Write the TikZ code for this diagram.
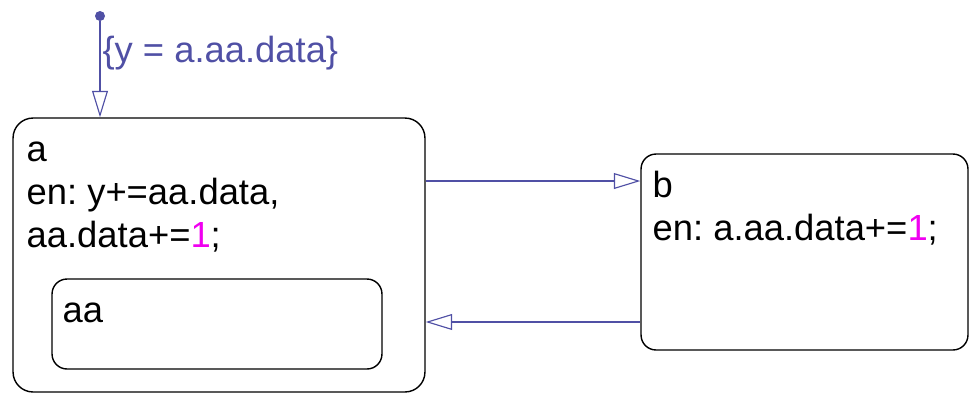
\documentclass[tikz,border=0pt]{standalone}
\usepackage{fontspec}
\setmainfont{Liberation Sans}
\usetikzlibrary{arrows.meta, positioning, calc}
\definecolor{trblue}{RGB}{80,80,165}
\definecolor{numpink}{RGB}{240,0,240}
\frenchspacing

\begin{document}
\begin{tikzpicture}[x=0.02cm, y=-0.02cm,
  state/.style={draw, line width=0.8pt, rounded corners=0.4cm, inner sep=0pt},
  lbl/.style={anchor=north west, inner sep=0pt, align=left,
              font=\fontsize{20.7}{24.4}\selectfont},
  trans/.style={draw=trblue, line width=0.65pt,
                -{Triangle[open, length=15pt, width=9pt]}}]
  \useasboundingbox (0,0) rectangle (969,393);

  % states
  \node[state, minimum width=8.24cm, minimum height=5.48cm]                      (a)  at (219,255)   {};
  \node[state, rounded corners=0.3cm, minimum width=6.6cm, minimum height=1.8cm]  (aa) at (217,324)   {};
  \node[state, rounded corners=0.3cm, minimum width=6.54cm, minimum height=3.92cm] (b) at (804.5,252) {};

  \node[lbl] (atext)  at ($(a.north west)+(14,14)$)  {\strut a\\en: y+=aa.data,\\aa.data+={\color{numpink}1};};
  \node[lbl] (aatext) at ($(aa.north west)+(11,14)$) {\strut aa};
  \node[lbl] (btext)  at ($(b.north west)+(12,14)$)  {\strut b\\en: a.aa.data+={\color{numpink}1};};

  % default transition
  \node[circle, fill=trblue, minimum size=0.2cm, inner sep=0pt] (init) at (100,16) {};
  \draw[trans] (init) -- (init |- a.north)
     node[pos=0.43, anchor=base west, inner sep=0pt, xshift=0.04cm, text=trblue,
          font=\fontsize{20.7}{24.4}\selectfont] (guard) {\{y = a.aa.data\}};

  % transitions between a and b
  \draw[trans] ([yshift=1.42cm]b.west -| a.east) -- ([yshift=1.42cm]b.west);
  \draw[trans] ([yshift=-1.4cm]b.west) -- ([yshift=-1.4cm]b.west -| a.east);
\end{tikzpicture}
\end{document}
